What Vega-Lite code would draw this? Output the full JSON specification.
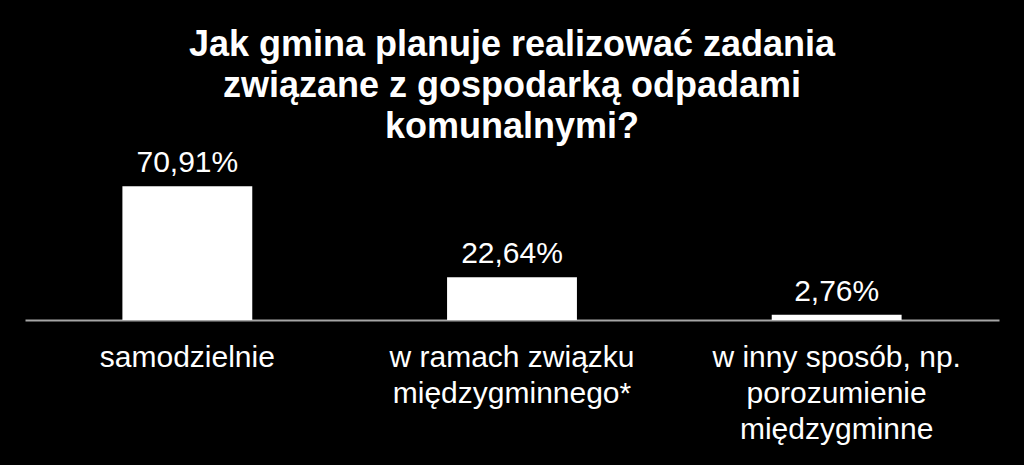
{
  "$schema": "https://vega.github.io/schema/vega-lite/v6.json",
  "autosize": {"type": "none"},
  "width": 974,
  "height": 151,
  "padding": {"left": 25, "right": 25, "top": 169, "bottom": 145},
  "background": "#000000",
  "config": {"view": {"stroke": null}, "font": "Liberation Sans"},
  "title": {
    "text": ["Jak gmina planuje realizować zadania", "związane z gospodarką odpadami", "komunalnymi?"],
    "anchor": "middle",
    "frame": "group",
    "font": "Liberation Sans",
    "fontSize": 36,
    "fontWeight": "bold",
    "color": "#ffffff",
    "lineHeight": 41,
    "offset": 2
  },
  "data": {
    "values": [
      {"sposob": "samodzielnie", "procent": 70.91, "etykieta": "70,91%"},
      {"sposob": "w ramach związku|międzygminnego*", "procent": 22.64, "etykieta": "22,64%"},
      {"sposob": "w inny sposób, np.|porozumienie|międzygminne", "procent": 2.76, "etykieta": "2,76%"}
    ]
  },
  "encoding": {
    "x": {
      "field": "sposob",
      "type": "nominal",
      "sort": null,
      "title": null,
      "scale": {"paddingInner": 0.6, "paddingOuter": 0.3},
      "axis": {
        "labelExpr": "split(datum.label, '|')",
        "labelAngle": 0,
        "labelLimit": 0,
        "labelFont": "Liberation Sans",
        "labelFontSize": 30,
        "labelLineHeight": 36,
        "labelColor": "#ffffff",
        "labelPadding": 22,
        "ticks": false,
        "domainColor": "#a6a6a6",
        "domainWidth": 2,
        "grid": false
      }
    },
    "y": {
      "field": "procent",
      "type": "quantitative",
      "scale": {"domain": [0, 80]},
      "axis": null
    }
  },
  "layer": [
    {"mark": {"type": "bar", "color": "#ffffff"}},
    {
      "mark": {
        "type": "text",
        "color": "#ffffff",
        "font": "Liberation Sans",
        "fontSize": 30,
        "baseline": "alphabetic",
        "dy": -14
      },
      "encoding": {"text": {"field": "etykieta"}}
    }
  ]
}
